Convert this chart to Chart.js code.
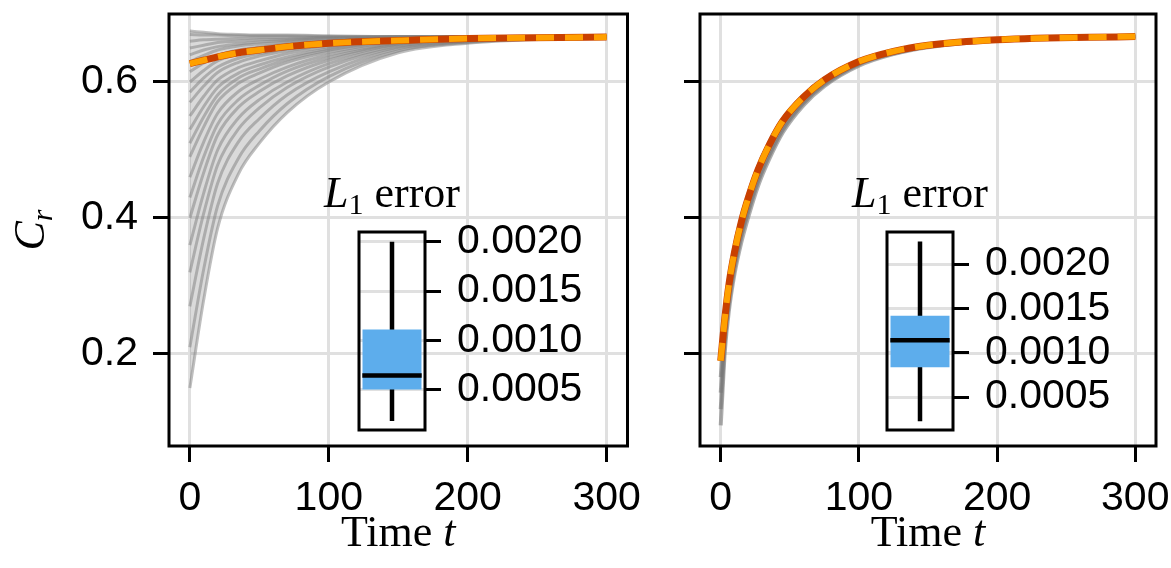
<!DOCTYPE html>
<html>
<head>
<meta charset="utf-8">
<script src="https://cdn.jsdelivr.net/npm/chart.js@4.4.0/dist/chart.umd.min.js"></script>
<style>
  body { margin: 0; background: #fff; width: 1171px; height: 568px; position: relative; overflow: hidden; }
  canvas { position: absolute; }
</style>
</head>
<body>
<canvas id="left" width="660" height="568" style="left:0;top:0"></canvas>
<canvas id="right" width="540" height="568" style="left:640px;top:0"></canvas>
<canvas id="insetL" width="300" height="275" style="left:300px;top:170px"></canvas>
<canvas id="insetR" width="300" height="275" style="left:828px;top:170px"></canvas>
<script>
// time samples (x values) for each panel
const leftTimes = [0, 10, 20, 35, 50, 70, 100, 150, 200, 300];
const rightTimes = [0, 3, 6, 10, 15, 20, 27, 35, 45, 60, 75, 100, 125, 150, 200, 300];

// left panel: ensemble of C_r trajectories
const leftGray = [
  [0.675, 0.673, 0.671, 0.670, 0.669, 0.669, 0.668, 0.667, 0.667, 0.667],
  [0.670, 0.669, 0.669, 0.668, 0.668, 0.668, 0.667, 0.667, 0.667, 0.667],
  [0.660, 0.662, 0.663, 0.664, 0.665, 0.665, 0.666, 0.667, 0.667, 0.667],
  [0.650, 0.654, 0.658, 0.660, 0.662, 0.663, 0.665, 0.666, 0.667, 0.667],
  [0.640, 0.647, 0.652, 0.656, 0.659, 0.661, 0.664, 0.666, 0.667, 0.667],
  [0.630, 0.639, 0.647, 0.653, 0.656, 0.659, 0.662, 0.665, 0.666, 0.667],
  [0.615, 0.628, 0.639, 0.647, 0.651, 0.656, 0.660, 0.665, 0.666, 0.667],
  [0.600, 0.617, 0.631, 0.641, 0.647, 0.653, 0.658, 0.664, 0.666, 0.667],
  [0.585, 0.606, 0.622, 0.635, 0.642, 0.649, 0.656, 0.663, 0.665, 0.667],
  [0.570, 0.594, 0.614, 0.629, 0.638, 0.646, 0.654, 0.663, 0.665, 0.667],
  [0.550, 0.579, 0.603, 0.621, 0.631, 0.642, 0.652, 0.662, 0.665, 0.667],
  [0.530, 0.564, 0.592, 0.613, 0.625, 0.637, 0.649, 0.661, 0.664, 0.667],
  [0.510, 0.549, 0.581, 0.606, 0.619, 0.633, 0.647, 0.660, 0.664, 0.667],
  [0.490, 0.534, 0.571, 0.598, 0.613, 0.629, 0.644, 0.659, 0.664, 0.667],
  [0.460, 0.512, 0.554, 0.586, 0.604, 0.622, 0.640, 0.657, 0.663, 0.667],
  [0.430, 0.490, 0.538, 0.574, 0.595, 0.616, 0.636, 0.656, 0.662, 0.666],
  [0.400, 0.467, 0.522, 0.563, 0.586, 0.609, 0.632, 0.655, 0.662, 0.666],
  [0.360, 0.437, 0.500, 0.547, 0.574, 0.600, 0.627, 0.653, 0.661, 0.666],
  [0.320, 0.407, 0.478, 0.531, 0.562, 0.592, 0.622, 0.651, 0.660, 0.666],
  [0.270, 0.370, 0.451, 0.512, 0.546, 0.581, 0.615, 0.649, 0.659, 0.666],
  [0.210, 0.325, 0.418, 0.488, 0.528, 0.568, 0.608, 0.646, 0.658, 0.666],
  [0.150, 0.280, 0.385, 0.465, 0.510, 0.555, 0.600, 0.643, 0.657, 0.666]
];
const leftTruth = [0.627, 0.632, 0.637, 0.643, 0.647, 0.652, 0.657, 0.661, 0.664, 0.666];
const leftPred  = [0.627, 0.632, 0.637, 0.643, 0.647, 0.652, 0.657, 0.661, 0.664, 0.666];

// right panel
const rightGray = [
  [0.095, 0.205, 0.265, 0.318, 0.365, 0.402, 0.447, 0.486, 0.526, 0.566, 0.594, 0.624, 0.641, 0.651, 0.661, 0.667],
  [0.119, 0.217, 0.275, 0.326, 0.373, 0.409, 0.453, 0.491, 0.530, 0.569, 0.596, 0.626, 0.642, 0.652, 0.661, 0.667],
  [0.143, 0.229, 0.284, 0.334, 0.380, 0.416, 0.459, 0.497, 0.535, 0.572, 0.599, 0.627, 0.643, 0.653, 0.662, 0.667],
  [0.166, 0.241, 0.294, 0.342, 0.388, 0.423, 0.465, 0.502, 0.539, 0.575, 0.601, 0.629, 0.644, 0.653, 0.662, 0.667],
  [0.195, 0.265, 0.312, 0.357, 0.401, 0.435, 0.475, 0.511, 0.546, 0.580, 0.605, 0.631, 0.646, 0.654, 0.662, 0.667]
];
const rightTruth = [0.190, 0.253, 0.303, 0.350, 0.395, 0.430, 0.471, 0.507, 0.543, 0.578, 0.603, 0.630, 0.645, 0.654, 0.662, 0.667];
const rightPred  = [0.190, 0.253, 0.303, 0.350, 0.395, 0.430, 0.471, 0.507, 0.543, 0.578, 0.603, 0.630, 0.645, 0.654, 0.662, 0.667];

// L1 error boxplots: [whisker low, q1, median, q3, whisker high]
const leftBox = [0.000179, 0.000500, 0.000643, 0.001110, 0.002000];
const rightBox = [0.000227, 0.000837, 0.001141, 0.001417, 0.002254];

const SANS = '"Liberation Sans", Arial, sans-serif';
const SERIF = '"Liberation Serif", "Times New Roman", serif';
const GRID = '#e0e0e0';

function pts(times, vals) {
  return times.map((t, i) => ({ x: t, y: vals[i] }));
}

// Chart.js pads axes by half a label height; the frame here is placed by hand
function fixAxis(s, key, size) {
  s[key] = size;
  s.paddingTop = 0; s.paddingBottom = 0; s.paddingLeft = 0; s.paddingRight = 0;
}

// draws a sequence of text parts (mixed fonts / subscripts), centred on x
function drawRich(ctx, parts, x, y) {
  let total = 0;
  parts.forEach(p => { ctx.font = p.font; p.w = ctx.measureText(p.text).width; total += p.w; });
  let cx = x - total / 2;
  ctx.textAlign = 'left';
  ctx.textBaseline = 'alphabetic';
  ctx.fillStyle = '#000';
  parts.forEach(p => { ctx.font = p.font; ctx.fillText(p.text, cx, y + (p.dy || 0)); cx += p.w; });
}

const framePlugin = {
  id: 'frame',
  afterDraw(chart) {
    const { ctx, chartArea: a } = chart;
    ctx.save();
    ctx.strokeStyle = '#000';
    ctx.lineWidth = 3;
    ctx.strokeRect(a.left, a.top, a.right - a.left, a.bottom - a.top);
    ctx.restore();
  }
};

const labelPlugin = {
  id: 'labels',
  afterDraw(chart, args, opts) {
    const { ctx, chartArea: a } = chart;
    ctx.save();
    drawRich(ctx, [
      { text: 'Time ', font: '44px ' + SERIF },
      { text: 't', font: 'italic 44px ' + SERIF }
    ], (a.left + a.right) / 2, 546);
    if (opts.ylabel) {
      ctx.translate(44, (a.top + a.bottom) / 2);
      ctx.rotate(-Math.PI / 2);
      drawRich(ctx, [
        { text: 'C', font: 'italic 44px ' + SERIF },
        { text: 'r', font: 'italic 30px ' + SERIF, dy: 8 }
      ], 0, 0);
    }
    ctx.restore();
  }
};

function makePanel(id, times, gray, truth, pred, yWidth, padRight, showY, grayColor, grayWidth) {
  const datasets = [
    { data: pts(times, pred), borderColor: '#FFA000', borderWidth: 6, borderDash: [18, 11] },
    { data: pts(times, truth), borderColor: '#C94000', borderWidth: 7 }
  ];
  gray.forEach((g, i) => {
    const ds = { data: pts(times, g), borderColor: grayColor, borderWidth: grayWidth };
    if (i === gray.length - 1) {
      ds.fill = 2; // shade the whole fan up to the top trajectory
      ds.backgroundColor = 'rgba(140,140,140,0.32)';
    }
    datasets.push(ds);
  });
  datasets.forEach(d => { d.pointRadius = 0; d.cubicInterpolationMode = 'monotone'; });

  return new Chart(document.getElementById(id), {
    type: 'line',
    data: { datasets },
    options: {
      responsive: false,
      animation: false,
      layout: { padding: { top: 14, right: padRight, left: 0, bottom: 0 } },
      plugins: { legend: { display: false }, tooltip: { enabled: false }, labels: { ylabel: showY } },
      scales: {
        x: {
          type: 'linear', min: -15, max: 315,
          ticks: { stepSize: 100, includeBounds: false, maxRotation: 0, color: '#000', padding: 12,
                   font: { family: SANS, size: 41 } },
          grid: { color: GRID, lineWidth: 3, tickColor: '#000', tickWidth: 3, tickLength: 16 },
          border: { display: false },
          afterFit: s => fixAxis(s, 'height', 122)
        },
        y: {
          min: 0.0647, max: 0.7,
          ticks: { stepSize: 0.2, includeBounds: false, color: '#000', padding: 15,
                   font: { family: SANS, size: 41 },
                   callback: v => showY ? v.toFixed(1) : '' },
          grid: { color: GRID, lineWidth: 3, tickColor: '#000', tickWidth: 3, tickLength: 16 },
          border: { display: false },
          afterFit: s => fixAxis(s, 'width', yWidth)
        }
      }
    },
    plugins: [framePlugin, labelPlugin]
  });
}

const insetTitle = {
  id: 'insetTitle',
  afterDraw(chart) {
    const { ctx, chartArea: a } = chart;
    ctx.save();
    drawRich(ctx, [
      { text: 'L', font: 'italic 44px ' + SERIF },
      { text: '1', font: '30px ' + SERIF, dy: 7 },
      { text: ' error', font: '44px ' + SERIF }
    ], (a.left + a.right) / 2, 37);
    ctx.restore();
  }
};

function makeInset(id, box, yMin, yMax) {
  const [lo, q1, med, q3, hi] = box;
  const datasets = [
    { data: [{ x: 0.55, y: med }, { x: 1.45, y: med }], borderColor: '#000', borderWidth: 4.5 },
    { data: [{ x: 0.55, y: q3 }, { x: 1.45, y: q3 }], borderColor: 'rgba(0,0,0,0)', borderWidth: 1,
      fill: '+1', backgroundColor: '#5DADEC' },
    { data: [{ x: 0.55, y: q1 }, { x: 1.45, y: q1 }], borderColor: 'rgba(0,0,0,0)', borderWidth: 1 },
    { data: [{ x: 1, y: lo }, { x: 1, y: hi }], borderColor: '#000', borderWidth: 4.5 }
  ];
  datasets.forEach(d => { d.pointRadius = 0; });
  return new Chart(document.getElementById(id), {
    type: 'line',
    data: { datasets },
    options: {
      responsive: false,
      animation: false,
      layout: { padding: { top: 62, left: 59, bottom: 15, right: 0 } },
      plugins: { legend: { display: false }, tooltip: { enabled: false } },
      scales: {
        x: { type: 'linear', min: 0.5, max: 1.5, display: false },
        y: {
          position: 'right', min: yMin, max: yMax,
          ticks: { stepSize: 0.0005, includeBounds: false, color: '#000', padding: 16,
                   font: { family: SANS, size: 41 }, callback: v => v.toFixed(4) },
          grid: { color: GRID, lineWidth: 3, tickColor: '#000', tickWidth: 3, tickLength: 16 },
          border: { display: false },
          afterFit: s => fixAxis(s, 'width', 175)
        }
      }
    },
    plugins: [framePlugin, insetTitle]
  });
}

makePanel('left', leftTimes, leftGray, leftTruth, leftPred, 169, 32.5, true, 'rgba(128,128,128,0.5)', 3);
makePanel('right', rightTimes, rightGray, rightTruth, rightPred, 60, 24, false, 'rgba(120,120,120,0.6)', 4);
makeInset('insetL', leftBox, 0.000088, 0.0021);
makeInset('insetR', rightBox, 0.000129, 0.002361);
</script>
</body>
</html>
